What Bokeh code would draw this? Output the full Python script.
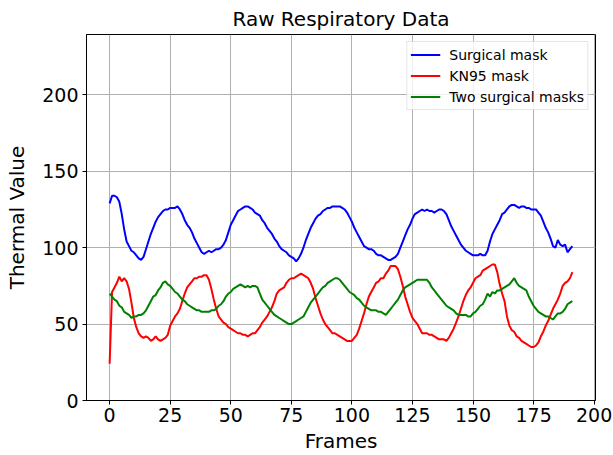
from bokeh.plotting import figure
from bokeh.models import FixedTicker, Range1d, Legend, LegendItem
from bokeh.embed import file_html
from bokeh.resources import INLINE

surgical = [129, 134, 134, 133, 130, 122, 112, 104, 101, 98, 97, 95, 93, 92, 94, 99, 104, 109, 113, 117,
            120, 122, 124, 125, 125, 126, 126, 126, 127, 125, 122, 118, 115, 113, 110, 106, 103, 100, 97, 96,
            97, 98, 97, 98, 99, 99, 100, 102, 105, 110, 115, 118, 121, 124, 125, 126, 127, 127, 126, 125,
            123, 122, 121, 118, 116, 113, 111, 109, 106, 104, 101, 99, 98, 97, 95, 94, 93, 91, 93, 96,
            100, 105, 109, 113, 116, 119, 121, 122, 124, 125, 126, 126, 127, 127, 127, 127, 126, 125, 123, 120,
            117, 113, 110, 107, 104, 101, 100, 99, 99, 98, 96, 95, 95, 94, 93, 92, 92, 93, 94, 96,
            100, 104, 108, 112, 115, 119, 122, 123, 124, 125, 124, 125, 124, 124, 123, 124, 125, 125, 124, 122,
            118, 114, 111, 108, 105, 102, 100, 98, 97, 96, 95, 95, 95, 96, 95, 95, 98, 104, 109, 112,
            115, 118, 122, 123, 125, 127, 128, 128, 127, 126, 127, 127, 126, 126, 125, 125, 125, 123, 121, 117,
            113, 110, 106, 101, 100, 105, 102, 101, 102, 97, 99, 101]

kn95 = [24, 71, 74, 77, 81, 78, 80, 78, 73, 64, 54, 48, 44, 42, 41, 42, 41, 39, 40, 42,
        40, 39, 40, 41, 43, 49, 52, 55, 57, 60, 65, 70, 74, 76, 78, 80, 80, 81, 81, 82,
        82, 79, 73, 66, 60, 55, 53, 51, 50, 48, 47, 46, 45, 44, 44, 43, 43, 42, 43, 44,
        44, 46, 48, 51, 53, 55, 58, 61, 65, 70, 72, 73, 74, 77, 79, 80, 80, 81, 82, 83,
        82, 81, 80, 77, 73, 67, 62, 57, 53, 50, 48, 46, 44, 44, 43, 42, 41, 40, 39, 39,
        39, 41, 43, 47, 52, 57, 63, 68, 71, 74, 77, 78, 80, 80, 83, 85, 88, 88, 88, 86,
        81, 75, 68, 63, 58, 54, 52, 50, 47, 44, 44, 44, 43, 43, 42, 41, 40, 40, 40, 39,
        41, 44, 47, 51, 55, 60, 65, 69, 72, 74, 77, 80, 81, 82, 85, 86, 87, 88, 89, 89,
        84, 76, 70, 65, 55, 49, 46, 45, 42, 41, 39, 38, 37, 36, 35, 35, 36, 38, 42, 45,
        49, 52, 56, 60, 63, 66, 70, 75, 77, 78, 80, 84]

two_surgical = [70, 68, 66, 65, 62, 61, 58, 57, 56, 54, 55, 55, 56, 56, 57, 59, 62, 65, 68, 69,
                72, 74, 77, 78, 76, 75, 73, 71, 70, 68, 66, 65, 63, 62, 61, 60, 59, 59, 58, 58,
                58, 58, 59, 59, 60, 62, 63, 65, 68, 70, 71, 73, 74, 75, 76, 75, 74, 75, 74, 75,
                75, 74, 70, 66, 64, 62, 60, 58, 56, 55, 54, 53, 52, 51, 50, 50, 51, 52, 53, 54,
                55, 58, 61, 64, 66, 68, 70, 72, 74, 75, 77, 78, 79, 80, 80, 79, 77, 75, 73, 71,
                70, 69, 67, 66, 64, 62, 61, 60, 59, 59, 59, 58, 58, 57, 56, 58, 60, 62, 64, 66,
                69, 72, 74, 75, 76, 77, 78, 79, 79, 79, 79, 79, 77, 74, 72, 70, 68, 66, 64, 62,
                61, 60, 59, 57, 56, 56, 56, 56, 55, 55, 57, 58, 60, 62, 63, 66, 70, 68, 71, 70,
                72, 72, 73, 74, 75, 76, 78, 80, 77, 75, 74, 73, 72, 68, 65, 62, 60, 58, 57, 56,
                55, 55, 54, 53, 55, 57, 57, 58, 60, 63, 64, 65]

frames = list(range(len(surgical)))
x_ticks = [0, 25, 50, 75, 100, 125, 150, 175, 200]
y_ticks = [0, 50, 100, 150, 200]
series_names = ["Surgical mask", "KN95 mask", "Two surgical masks"]
series_colors = ["#0000ff", "#ff0000", "#008000"]

FONT = "DejaVu Sans"

p = figure(width=613, height=455, output_backend="svg", toolbar_location=None,
           x_range=Range1d(-9.55, 200.55), y_range=Range1d(0, 239.5),
           title="Raw Respiratory Data",
           min_border_left=86, min_border_right=18, min_border_top=34, min_border_bottom=55)

p.title.align = "center"
p.title.text_font = FONT
p.title.text_font_size = "20px"
p.title.text_font_style = "normal"
p.title.text_color = "#000000"
p.title.standoff = 7

renderers = []
for ys, c in zip([surgical, kn95, two_surgical], series_colors):
    r = p.line(frames, ys, line_color=c, line_width=2)
    renderers.append(r)

legend = Legend(items=[LegendItem(label=n, renderers=[r]) for n, r in zip(series_names, renderers)],
                location="top_right")
legend.label_text_font = FONT
legend.label_text_font_size = "14px"
legend.label_text_color = "#000000"
legend.glyph_width = 30
legend.glyph_height = 19
legend.label_height = 19
legend.label_standoff = 9
legend.spacing = 2
legend.padding = 3
legend.margin = 7
legend.border_line_color = "#cccccc"
legend.border_line_width = 1
legend.background_fill_alpha = 0.8
p.add_layout(legend)

for ax in [p.xaxis[0], p.yaxis[0]]:
    ax.major_label_text_font = FONT
    ax.major_label_text_font_size = "19px"
    ax.major_label_text_color = "#000000"
    ax.axis_label_text_font = FONT
    ax.axis_label_text_font_size = "20px"
    ax.axis_label_text_font_style = "normal"
    ax.axis_label_text_color = "#000000"
    ax.axis_line_color = "#000000"
    ax.major_tick_line_color = "#000000"
    ax.major_tick_out = 4
    ax.major_tick_in = 0
    ax.minor_tick_line_color = None

p.xaxis.axis_label = "Frames"
p.yaxis.axis_label = "Thermal Value"
p.xaxis.ticker = FixedTicker(ticks=x_ticks)
p.yaxis.ticker = FixedTicker(ticks=y_ticks)
p.xaxis.major_label_standoff = 3
p.yaxis.major_label_standoff = 4
p.xaxis.axis_label_standoff = 4
p.yaxis.axis_label_standoff = 10

p.xgrid.ticker = FixedTicker(ticks=x_ticks)
p.ygrid.ticker = FixedTicker(ticks=y_ticks)
p.grid.grid_line_color = "#b0b0b0"
p.grid.grid_line_width = 1
p.outline_line_color = "#000000"
p.outline_line_width = 1
p.background_fill_color = "white"
p.border_fill_color = "white"

open("out.html", "w").write(file_html(p, INLINE))
